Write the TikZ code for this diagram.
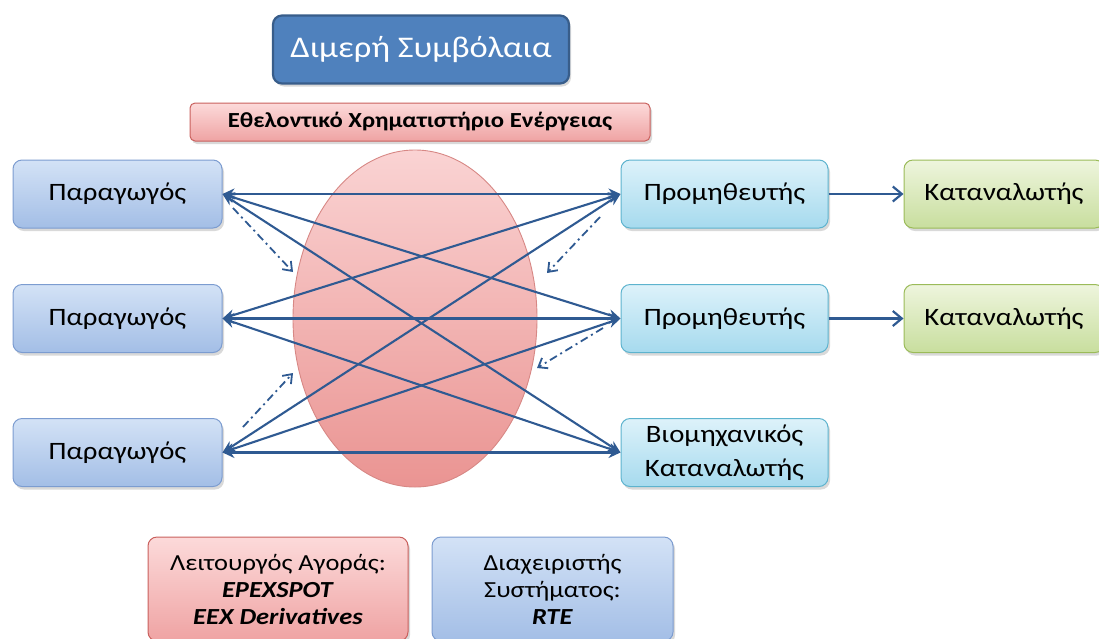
\documentclass[tikz,border=0pt]{standalone}
\usepackage{fontspec}
\setmainfont{Carlito}[FakeStretch=1.15]
\usetikzlibrary{shadows,arrows.meta,shapes.geometric}
\definecolor{lineblue}{HTML}{2F5A92}
\definecolor{darkblue}{HTML}{4F81BD}
\definecolor{darkblueedge}{HTML}{385D8A}
\definecolor{pinktop}{HTML}{FCDADA}
\definecolor{pinkbot}{HTML}{EFA3A3}
\definecolor{pinkedge}{HTML}{C9605D}
\definecolor{elltop}{HTML}{FAD3D3}
\definecolor{ellbot}{HTML}{EA9492}
\definecolor{bluetop}{HTML}{D3E2F6}
\definecolor{bluebot}{HTML}{A3BEE6}
\definecolor{blueedge}{HTML}{7C9CD0}
\definecolor{cyantop}{HTML}{DDF2FA}
\definecolor{cyanbot}{HTML}{A6DAEE}
\definecolor{cyanedge}{HTML}{5DB3CE}
\definecolor{greentop}{HTML}{EEF5DD}
\definecolor{greenbot}{HTML}{C8DE9E}
\definecolor{greenedge}{HTML}{9BBB59}
\tikzset{
  boxbase/.style={rectangle, rounded corners=9pt, line width=1pt, align=center,
    drop shadow={shadow xshift=2pt, shadow yshift=-3pt, opacity=0.3}},
  prodbox/.style={boxbase, draw=blueedge, top color=bluetop, bottom color=bluebot,
    minimum width=209pt, minimum height=68pt, font=\fontsize{25}{30}\selectfont},
  suppbox/.style={boxbase, draw=cyanedge, top color=cyantop, bottom color=cyanbot,
    minimum width=207pt, minimum height=68pt, font=\fontsize{25}{30}\selectfont},
  consbox/.style={boxbase, draw=greenedge, top color=greentop, bottom color=greenbot,
    minimum width=200pt, minimum height=68pt, font=\fontsize{25}{30}\selectfont},
  link/.style={lineblue, line width=2.1pt, {Stealth[length=12pt,width=11pt]}-{Stealth[length=12pt,width=11pt]}},
  dlink/.style={lineblue, line width=1.8pt, dash pattern=on 8pt off 4pt on 2pt off 4pt, -{Straight Barb[length=8pt,width=12pt]}},
  clink/.style={lineblue, line width=2.2pt, -{Straight Barb[length=9pt,width=15pt]}}
}
\begin{document}
\begin{tikzpicture}[x=1pt,y=-1pt]
\useasboundingbox (0,0) rectangle (1099,638);
% market ellipse
\node[ellipse, draw=pinkedge!75, line width=0.9pt, top color=elltop, bottom color=ellbot,
      minimum width=244pt, minimum height=337pt] (mk) at (415,318.5) {};
% top boxes
\node[boxbase, draw=darkblueedge, fill=darkblue, line width=2.2pt, minimum width=296pt, minimum height=68pt,
      text=white, font=\fontsize{30}{36}\selectfont] (dim) at (421,49.5) {Διμερή Συμβόλαια};
\node[boxbase, rounded corners=5pt, draw=pinkedge, top color=pinktop, bottom color=pinkbot, minimum width=460pt,
      minimum height=38pt, font=\bfseries\fontsize{21.5}{26}\selectfont] (vol) at (420,122) {Εθελοντικό Χρηματιστήριο Ενέργειας};
% producers
\node[prodbox] (p1) at (117.5,194) {Παραγωγός};
\node[prodbox] (p2) at (117.5,318.5) {Παραγωγός};
\node[prodbox] (p3) at (117.5,452.5) {Παραγωγός};
% right side
\node[suppbox] (s1) at (724.5,194) {Προμηθευτής};
\node[suppbox] (s2) at (724.5,318.5) {Προμηθευτής};
\node[suppbox, font=\fontsize{25}{34}\selectfont] (s3) at (724.5,452.5) {Βιομηχανικός\\Καταναλωτής};
\node[consbox] (c1) at (1004,194) {Καταναλωτής};
\node[consbox] (c2) at (1004,318.5) {Καταναλωτής};
% links
\foreach \p in {p1,p2,p3}{
  \foreach \s in {s1,s2,s3}{
    \draw[link] (\p.east) -- (\s.west);
  }
}
\draw[clink] (s1.east) -- (c1.west);
\draw[clink] (s2.east) -- (c2.west);
% dash-dot arrows
\coordinate (a1) at (233,208);
\coordinate (a2) at (293,272);
\coordinate (b1) at (243,427);
\coordinate (b2) at (293,373);
\coordinate (d1) at (600,217);
\coordinate (d2) at (547,273);
\coordinate (e1) at (603,328);
\coordinate (e2) at (537,368);
\draw[dlink] (a1) -- (a2);
\draw[dlink] (b1) -- (b2);
\draw[dlink] (d1) -- (d2);
\draw[dlink] (e1) -- (e2);
% bottom boxes
\node[boxbase, draw=pinkedge, top color=pinktop, bottom color=pinkbot, minimum width=260pt, minimum height=104pt,
      font=\fontsize{23}{27}\selectfont] (mo) at (278,589) {Λειτουργός Αγοράς:\\\textbf{\textit{EPEXSPOT}}\\\textbf{\textit{EEX Derivatives}}};
\node[boxbase, draw=blueedge, top color=bluetop, bottom color=bluebot, minimum width=241pt, minimum height=104pt,
      font=\fontsize{23}{27}\selectfont] (tso) at (552.5,589) {Διαχειριστής\\Συστήματος:\\\textbf{\textit{RTE}}};
\end{tikzpicture}
\end{document}
